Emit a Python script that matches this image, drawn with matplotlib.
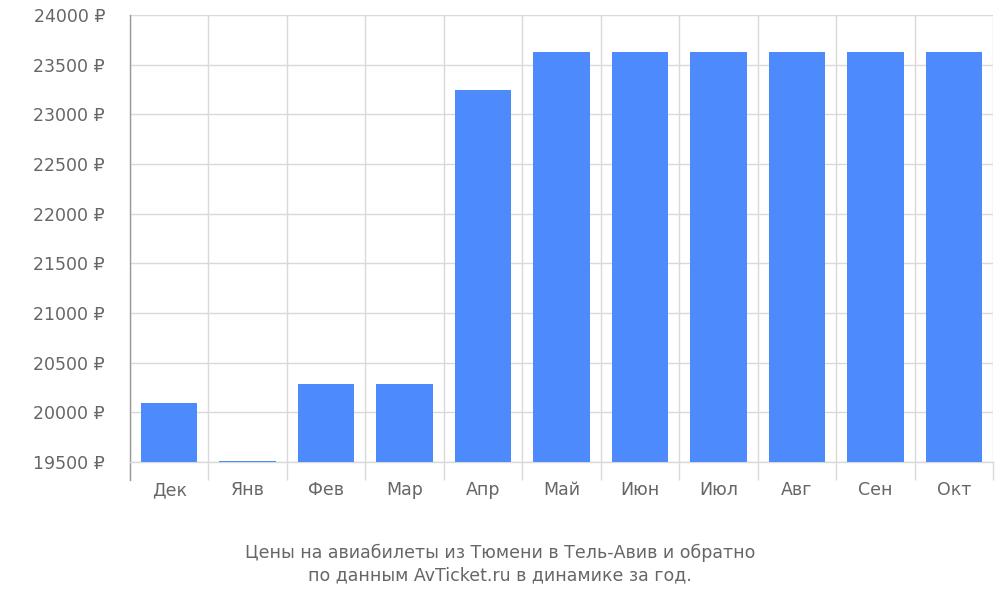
import matplotlib
matplotlib.use('Agg')
import matplotlib.pyplot as plt
import numpy as np

months = ['Дек', 'Янв', 'Фев', 'Мар', 'Апр', 'Май', 'Июн', 'Июл', 'Авг', 'Сен', 'Окт']
prices = [20090, 19510, 20290, 20290, 23240, 23630, 23630, 23630, 23630, 23630, 23630]
yticks = list(range(19500, 24001, 500))

GRAY = '#666666'
GRID = '#d9d9d9'

fig = plt.figure(figsize=(10, 6), dpi=100)
ax = fig.add_axes([0.130, 0.230, 0.863, 0.745])

x = np.arange(len(months))
ax.bar(x, [p - 19500 for p in prices], bottom=19500, width=0.72, color='#4d8afb', zorder=3)

ax.set_xlim(-0.5, len(months) - 0.5)
ax.set_ylim(19500, 24000)
ax.set_yticks(yticks)
ax.set_yticklabels([f'{v} ₽' for v in yticks], fontsize=12.5, color=GRAY)
ax.tick_params(axis='y', length=0, pad=18)

# boundaries as major ticks (grid + long tick marks), labels as minor ticks
ax.set_xticks(np.arange(-0.5, len(months), 1.0))
ax.set_xticklabels([])
ax.tick_params(axis='x', which='major', length=13, color=GRID, width=1)
ax.set_xticks(x, minor=True)
ax.set_xticklabels(months, minor=True, fontsize=12.5, color=GRAY)
ax.tick_params(axis='x', which='minor', length=0, pad=14)

ax.grid(True, which='major', color=GRID, linewidth=1, zorder=0)
for s in ['top', 'right', 'bottom', 'left']:
    ax.spines[s].set_visible(False)
ax.plot([0, 0], [-0.04, 1.0], transform=ax.transAxes, color='#999999', lw=1, clip_on=False)
ax.plot([0, 1], [0, 0], transform=ax.transAxes, color=GRID, lw=1, clip_on=False)

fig.text(0.5, 0.06, 'Цены на авиабилеты из Тюмени в Тель-Авив и обратно\nпо данным AvTicket.ru в динамике за год.',
         ha='center', va='center', fontsize=12.5, color=GRAY, linespacing=1.3)

fig.savefig('out.png', dpi=100)
